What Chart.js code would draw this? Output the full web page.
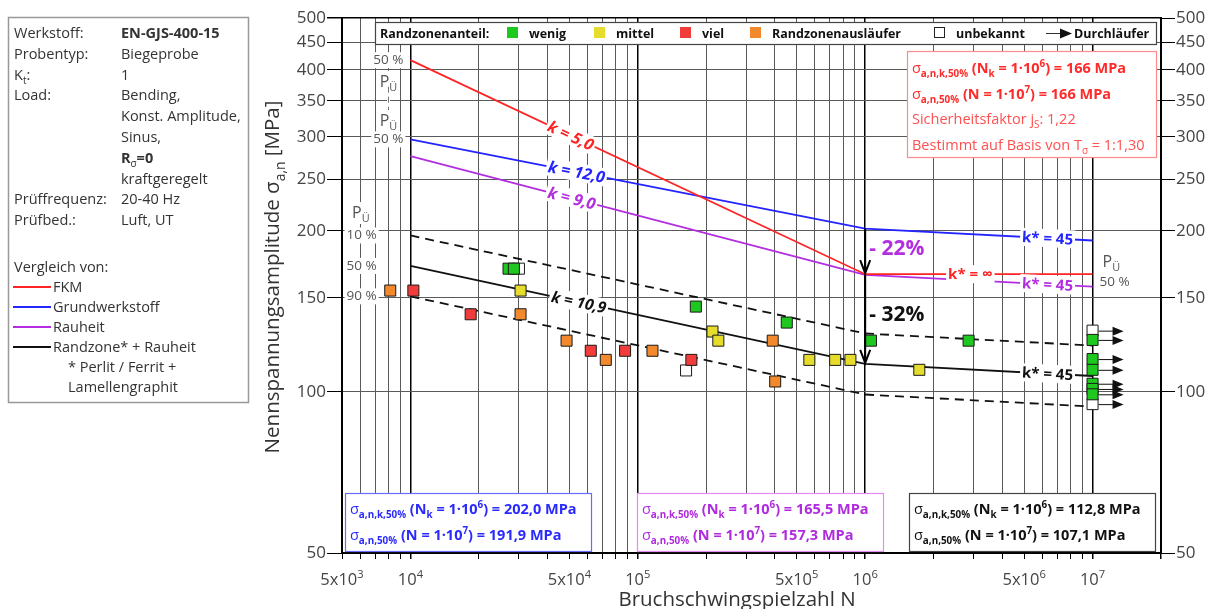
<!DOCTYPE html>
<html>
<head>
<meta charset="utf-8">
<script src="https://cdn.jsdelivr.net/npm/chart.js@4.4.1/dist/chart.umd.min.js"></script>
<style>
  html, body { margin: 0; padding: 0; background: #fff; }
</style>
</head>
<body>
<canvas id="woehler" width="1208" height="609"></canvas>
<script>
const FONT = '"Open Sans", "Noto Sans", sans-serif';

// Achsen
const xMin = 5000, xMax = 2e7;
const yMin = 50, yMax = 500;
const xLabelTicks = [5e3, 1e4, 5e4, 1e5, 5e5, 1e6, 5e6, 1e7];
const yTicks = [50, 100, 150, 200, 250, 300, 350, 400, 450, 500];

// Woehlerlinien: Stuetzstellen N und Spannungen
const lineN = [1e4, 1e6, 1e7];
const fkmS = [417, 166, 166];
const grundS = [296.5, 202.0, 191.9];
const rauhS = [276, 165.5, 157.3];
const randS = [172, 112.8, 107.1];
const rand10S = [196.1, 128.6, 122.1];
const rand90S = [150.9, 98.9, 93.9];

// Versuchspunkte nach Randzonenanteil
const wenigN = [27000, 28500, 180000, 452000, 1.06e6, 2.85e6];
const wenigS = [170, 170, 144.4, 134.8, 124.7, 124.7];
const mittelN = [30500, 213000, 226000, 568000, 738000, 861000, 1.73e6];
const mittelS = [154.7, 129.7, 124.7, 114.8, 114.8, 114.8, 110];
const vielN = [10300, 18400, 62100, 87900, 172000];
const vielS = [154.7, 139.7, 119.4, 119.4, 114.8];
const auslN = [8150, 30500, 48600, 72300, 116000, 392000, 402000];
const auslS = [154.7, 139.7, 124.7, 114.8, 119.4, 124.7, 104.6];
const unbekN = [30000, 163000];
const unbekS = [170, 109.7];
// Durchlaeufer
const runWenigN = [1e7, 1e7, 1e7, 1e7, 1e7, 1e7];
const runWenigS = [125.1, 115.2, 110, 103.6, 101.3, 99];
const runUnbekN = [1e7, 1e7];
const runUnbekS = [130.2, 94.9];

const RED = '#ff2424', BLUE = '#2424ff', PURPLE = '#b22ee0', BLACK = '#111';
const GREEN = '#1ec81e', YELLOW = '#e6dc2c', VIEL = '#f23c3c', ORANGE = '#f2892c';

const xGridTicks = [];
for (let e = 3; e <= 7; e++) {
    for (let m = 1; m <= 9; m++) {
        const v = m * Math.pow(10, e);
        if (v >= xMin && v <= xMax) xGridTicks.push(v);
    }
}

const pts = (ns, ss) => ns.map((n, i) => ({ x: n, y: ss[i] }));

function lineSet(label, ss, color, dash) {
    return {
        label, data: pts(lineN, ss), showLine: true,
        borderColor: color, borderWidth: 1.8, borderDash: dash || [],
        pointRadius: 0, order: 5
    };
}
function pointSet(label, ns, ss, fill, order, runout) {
    return {
        label, data: pts(ns, ss), pointStyle: 'rect', pointRadius: 7.8,
        backgroundColor: fill, borderColor: '#1a1a1a', borderWidth: 1,
        order: order, runout: !!runout
    };
}

// Beschriftungen an den Linien
const lineLabels = [
    { t: 'k = 5,0', n: 50700, s: fkmS, c: RED, f: 'italic bold 16px', seg: 0 },
    { t: 'k = 12,0', n: 53800, s: grundS, c: BLUE, f: 'italic bold 16px', seg: 0 },
    { t: 'k = 9,0', n: 51200, s: rauhS, c: PURPLE, f: 'italic bold 16px', seg: 0 },
    { t: 'k = 10,9', n: 55000, s: randS, c: BLACK, f: 'italic bold 15.5px', seg: 0 },
    { t: 'k* = 45', n: 6.34e6, s: grundS, c: BLUE, f: 'bold 15px', seg: 1 },
    { t: 'k* = \u221e', n: 2.9e6, s: fkmS, c: RED, f: 'bold 15px', seg: 1 },
    { t: 'k* = 45', n: 6.34e6, s: rauhS, c: PURPLE, f: 'bold 15px', seg: 1 },
    { t: 'k* = 45', n: 6.34e6, s: randS, c: BLACK, f: 'bold 15px', seg: 1 }
];

// Ueberlebenswahrscheinlichkeiten
const pueNotes = [
    { n: 8000, s: fkmS[0], t: '50 %' },
    { n: 8000, s: 380, p: true },
    { n: 8000, s: 321, p: true },
    { n: 8000, s: grundS[0], t: '50 %' },
    { n: 6050, s: 216, p: true },
    { n: 6100, s: rand10S[0], t: '10 %' },
    { n: 6100, s: randS[0], t: '50 %' },
    { n: 6100, s: rand90S[0], t: '90 %' },
    { n: 1.21e7, s: 175, p: true },
    { n: 1.25e7, s: 160.6, t: '50 %' }
];

function onLine(n, ss) {
    const i = n <= lineN[1] ? 0 : 1;
    const a = Math.log10(lineN[i]), b = Math.log10(lineN[i + 1]);
    const f = (Math.log10(n) - a) / (b - a);
    return Math.pow(10, Math.log10(ss[i]) + f * (Math.log10(ss[i + 1]) - Math.log10(ss[i])));
}

function rich(ctx, x, y, parts, size, color, align) {
    const f = fl => {
        const small = fl.includes('_') || fl.includes('^');
        const s = small ? size * 0.68 : size;
        return (fl.includes('i') ? 'italic ' : '') + (fl.includes('b') ? 'bold ' : '') + s.toFixed(1) + 'px ' + FONT;
    };
    let w = 0;
    for (const [t, fl = ''] of parts) { ctx.font = f(fl); w += ctx.measureText(t).width; }
    let cx = align === 'center' ? x - w / 2 : (align === 'right' ? x - w : x);
    ctx.fillStyle = color;
    ctx.textAlign = 'left';
    ctx.textBaseline = 'alphabetic';
    for (const [t, fl = ''] of parts) {
        ctx.font = f(fl);
        const dy = fl.includes('_') ? size * 0.28 : (fl.includes('^') ? -size * 0.42 : 0);
        ctx.fillText(t, cx, y + dy);
        cx += ctx.measureText(t).width;
    }
    return w;
}

const fmt1 = v => v.toFixed(1).replace('.', ',');
const boxLine1 = v => [['\u03c3', ''], ['a,n,k,50%', 'b_'], [' (N', 'b'], ['k', 'b_'], [' = 1\u00b710', 'b'], ['6', 'b^'], [') = ' + v + ' MPa', 'b']];
const boxLine2 = v => [['\u03c3', ''], ['a,n,50%', 'b_'], [' (N = 1\u00b710', 'b'], ['7', 'b^'], [') = ' + v + ' MPa', 'b']];

function box(ctx, x, y, w, h, border) {
    ctx.fillStyle = '#fff';
    ctx.fillRect(x, y, w, h);
    ctx.strokeStyle = border;
    ctx.lineWidth = 1.2;
    ctx.strokeRect(x + 0.5, y + 0.5, w, h);
}

function arrowHeadFilled(ctx, x, y, len, half) {
    ctx.beginPath();
    ctx.moveTo(x, y);
    ctx.lineTo(x - len, y - half);
    ctx.lineTo(x - len, y + half);
    ctx.closePath();
    ctx.fill();
}

const overlay = {
    id: 'overlay',
    afterDatasetsDraw(chart) {
        const c = chart.ctx;
        c.save();
        // Durchlaeufer-Pfeile
        chart.data.datasets.forEach((ds, i) => {
            if (!ds.runout) return;
            chart.getDatasetMeta(i).data.forEach(p => {
                c.strokeStyle = '#111';
                c.fillStyle = '#111';
                c.lineWidth = 1;
                c.beginPath();
                c.moveTo(p.x + 6, p.y + 0.5);
                c.lineTo(p.x + 22, p.y + 0.5);
                c.stroke();
                arrowHeadFilled(c, p.x + 31, p.y + 0.5, 11, 4.5);
            });
        });
        c.restore();
    },
    afterDraw(chart) {
        const c = chart.ctx;
        const xs = chart.scales.x, ys = chart.scales.y;
        const area = chart.chartArea;
        c.save();

        // Linienbeschriftungen
        lineLabels.forEach(l => {
            const i = l.seg;
            const x0 = xs.getPixelForValue(lineN[i]), x1 = xs.getPixelForValue(lineN[i + 1]);
            const y0 = ys.getPixelForValue(l.s[i]), y1 = ys.getPixelForValue(l.s[i + 1]);
            const ang = Math.atan2(y1 - y0, x1 - x0);
            const px = xs.getPixelForValue(l.n), py = ys.getPixelForValue(onLine(l.n, l.s));
            c.save();
            c.translate(px, py);
            c.rotate(ang);
            c.font = l.f + ' ' + FONT;
            const w = c.measureText(l.t).width;
            c.fillStyle = '#fff';
            c.fillRect(-w / 2 - 2, -9, w + 4, 18);
            c.fillStyle = l.c;
            c.textAlign = 'center';
            c.textBaseline = 'middle';
            c.fillText(l.t, 0, 1);
            c.restore();
        });

        // P_Ue Beschriftungen
        pueNotes.forEach(p => {
            const px = xs.getPixelForValue(p.n), py = ys.getPixelForValue(p.s);
            c.fillStyle = '#fff';
            if (p.p) {
                c.fillRect(px - 9, py - 11, 18, 22);
                rich(c, px, py + 5, [['P', ''], ['\u00dc', '_']], 16, '#555', 'center');
            } else {
                c.font = '13.5px ' + FONT;
                const w = c.measureText(p.t).width;
                c.fillRect(px - w / 2 - 2, py - 8, w + 4, 16);
                c.fillStyle = '#555';
                c.textAlign = 'center';
                c.textBaseline = 'middle';
                c.fillText(p.t, px, py);
            }
        });
        // gestrichelte Verbindung zwischen den oberen P_Ue
        {
            const px = Math.round(xs.getPixelForValue(8000)) + 0.5;
            const ya = ys.getPixelForValue(372), yb = ys.getPixelForValue(338);
            c.strokeStyle = '#fff';
            c.lineWidth = 3;
            c.beginPath(); c.moveTo(px, ya); c.lineTo(px, yb); c.stroke();
            c.strokeStyle = '#777';
            c.lineWidth = 1;
            c.setLineDash([6, 4]);
            c.beginPath(); c.moveTo(px, ya); c.lineTo(px, yb); c.stroke();
            c.setLineDash([]);
        }

        // Abfall-Pfeile bei Nk = 1e6
        const ax = xs.getPixelForValue(lineN[1]);
        const drops = [[grundS[1], fkmS[1]], [fkmS[1], randS[1]]];
        c.strokeStyle = '#000';
        c.lineWidth = 2;
        drops.forEach(([a, b]) => {
            const ya = ys.getPixelForValue(a), yb = ys.getPixelForValue(b);
            c.beginPath();
            c.moveTo(ax, ya); c.lineTo(ax, yb - 1);
            c.moveTo(ax - 5, yb - 14); c.lineTo(ax, yb - 1); c.lineTo(ax + 5, yb - 14);
            c.stroke();
        });
        c.font = 'bold 21px ' + FONT;
        c.textAlign = 'left';
        c.textBaseline = 'alphabetic';
        c.fillStyle = PURPLE;
        c.fillText('- 22%', ax + 4, ys.getPixelForValue(180.4));
        c.fillStyle = '#111';
        c.fillText('- 32%', ax + 4, ys.getPixelForValue(135.8));

        // Legende oben
        box(c, 375, 22, 781, 22, '#444');
        c.font = 'bold 12.5px ' + FONT;
        c.fillStyle = '#111';
        c.textBaseline = 'alphabetic';
        c.fillText('Randzonenanteil:', 380, 38);
        const legItems = [
            [507, GREEN, 'wenig'], [594, YELLOW, 'mittel'], [680, VIEL, 'viel'],
            [750, ORANGE, 'Randzonenausl\u00e4ufer'], [934, '#fff', 'unbekannt']
        ];
        legItems.forEach(([lx, col, t]) => {
            c.fillStyle = col;
            c.fillRect(lx, 27, 11, 11);
            if (col === '#fff') {
                c.strokeStyle = '#222'; c.lineWidth = 1;
                c.strokeRect(lx + 0.5, 27.5, 10, 10);
            }
            c.fillStyle = '#111';
            c.fillText(t, lx + 22, 38);
        });
        c.strokeStyle = '#333'; c.lineWidth = 1;
        c.beginPath(); c.moveTo(1046, 33.5); c.lineTo(1060, 33.5); c.stroke();
        c.fillStyle = '#111';
        arrowHeadFilled(c, 1072, 33.5, 12, 5);
        c.fillText('Durchl\u00e4ufer', 1074, 38);

        // FKM Kasten
        box(c, 907, 51, 249, 106, '#ff8a8a');
        rich(c, 912, 73, boxLine1(fkmS[1].toFixed(0)), 14.5, '#ff2a2a');
        rich(c, 912, 99, boxLine2(fkmS[2].toFixed(0)), 14.5, '#ff2a2a');
        rich(c, 912, 124, [['Sicherheitsfaktor j', ''], ['S', '_'], [': 1,22', '']], 14.5, '#ff5050');
        rich(c, 912, 150, [['Bestimmt auf Basis von T', ''], ['\u03c3', '_'], [' = 1:1,30', '']], 14.5, '#ff5050');

        // Kennwert-Kaesten unten
        const lower = [
            [345, '#6a6aff', '#2a2aff', grundS],
            [637, '#e48af2', '#b02ae0', rauhS],
            [909, '#444', '#111', randS]
        ];
        lower.forEach(([bx, bc, tc, ss]) => {
            box(c, bx, 493, 246, 58, bc);
            rich(c, bx + 5, 514, boxLine1(fmt1(ss[1])), 14.5, tc);
            rich(c, bx + 5, 540, boxLine2(fmt1(ss[2])), 14.5, tc);
        });

        // x-Achsenbeschriftung mit Exponenten
        xLabelTicks.forEach(v => {
            const e = Math.floor(Math.log10(v) + 1e-9);
            const m = Math.round(v / Math.pow(10, e));
            const parts = (m === 1 ? [] : [[m + 'x', '']]).concat([['10', ''], [String(e), '^']]);
            rich(c, xs.getPixelForValue(v), area.bottom + 32, parts, 16.5, '#444', 'center');
        });

        // Achsentitel
        c.font = '20.5px ' + FONT;
        c.fillStyle = '#333';
        c.textAlign = 'center';
        c.textBaseline = 'alphabetic';
        c.fillText('Bruchschwingspielzahl N', 737, 606);
        c.save();
        c.translate(279, 277);
        c.rotate(-Math.PI / 2);
        rich(c, 0, 0, [['Nennspannungsamplitude \u03c3', ''], ['a,n', '_'], [' [MPa]', '']], 20.5, '#333', 'center');
        c.restore();

        // Infokasten links
        c.fillStyle = '#fff';
        c.fillRect(8, 17, 240, 385);
        c.strokeStyle = '#999';
        c.lineWidth = 1.5;
        c.strokeRect(8.5, 17.5, 240, 385);
        const L = 14, R = 121, sz = 14.5, tc = '#333';
        const rows = [
            [[['Werkstoff:', '']], [['EN-GJS-400-15', 'b']]],
            [[['Probentyp:', '']], [['Biegeprobe', '']]],
            [[['K', ''], ['t', '_'], [':', '']], [['1', '']]],
            [[['Load:', '']], [['Bending,', '']]],
            [null, [['Konst. Amplitude,', '']]],
            [null, [['Sinus,', '']]],
            [null, [['R', 'b'], ['\u03c3', '_'], ['=0', 'b']]],
            [null, [['kraftgeregelt', '']]],
            [[['Pr\u00fcffrequenz:', '']], [['20-40 Hz', '']]],
            [[['Pr\u00fcfbed.:', '']], [['Luft, UT', '']]]
        ];
        rows.forEach(([a, b], i) => {
            const y = 38 + i * 20.8;
            if (a) rich(c, L, y, a, sz, tc);
            rich(c, R, y, b, sz, tc);
        });
        rich(c, L, 272, [['Vergleich von:', '']], sz, tc);
        const legLines = [[RED, 'FKM'], [BLUE, 'Grundwerkstoff'], [PURPLE, 'Rauheit'], ['#111', 'Randzone* + Rauheit']];
        legLines.forEach(([col, t], i) => {
            const y = 292 + i * 20;
            c.strokeStyle = col;
            c.lineWidth = 1.8;
            c.beginPath(); c.moveTo(13, y - 5); c.lineTo(51, y - 5); c.stroke();
            rich(c, 53, y, [[t, '']], sz, tc);
        });
        rich(c, 68, 372, [['* Perlit / Ferrit +', '']], sz, tc);
        rich(c, 68, 392, [['Lamellengraphit', '']], sz, tc);

        c.restore();
    }
};

const gridColor = v => (v === 1e4 || v === 1e5 || v === 1e6 || v === 1e7 || v === xMax) ? '#000' : '#5a5a5a';

new Chart(document.getElementById('woehler'), {
    type: 'scatter',
    data: {
        datasets: [
            pointSet('wenig', wenigN, wenigS, GREEN, 1),
            pointSet('mittel', mittelN, mittelS, YELLOW, 1),
            pointSet('viel', vielN, vielS, VIEL, 1),
            pointSet('Randzonenausl\u00e4ufer', auslN, auslS, ORANGE, 1),
            pointSet('unbekannt', unbekN, unbekS, '#fff', 2),
            pointSet('wenig Durchl\u00e4ufer', runWenigN, runWenigS, GREEN, 1, true),
            pointSet('unbekannt Durchl\u00e4ufer', runUnbekN, runUnbekS, '#fff', 1, true),
            lineSet('FKM', fkmS, RED),
            lineSet('Grundwerkstoff', grundS, BLUE),
            lineSet('Rauheit', rauhS, PURPLE),
            lineSet('Randzone + Rauheit', randS, BLACK),
            lineSet('Randzone 10 %', rand10S, BLACK, [9, 6]),
            lineSet('Randzone 90 %', rand90S, BLACK, [9, 6])
        ]
    },
    options: {
        responsive: false,
        animation: false,
        events: [],
        layout: { padding: { left: 270, right: 0, top: 18, bottom: 0 } },
        plugins: { legend: { display: false }, tooltip: { enabled: false } },
        scales: {
            x: {
                type: 'logarithmic', min: xMin, max: xMax,
                afterBuildTicks: s => { s.ticks = xGridTicks.map(v => ({ value: v })); },
                afterFit: s => { s.height = 56; },
                ticks: { autoSkip: false, maxRotation: 0, callback: () => '' },
                grid: {
                    color: ctx => gridColor(ctx.tick ? ctx.tick.value : 0),
                    lineWidth: ctx => gridColor(ctx.tick ? ctx.tick.value : 0) === '#000' ? 1.5 : 1,
                    tickLength: 6, tickColor: '#000'
                },
                border: { color: '#000', width: 2 }
            },
            y: {
                type: 'logarithmic', min: yMin, max: yMax, position: 'left',
                afterBuildTicks: s => { s.ticks = yTicks.map(v => ({ value: v })); },
                afterFit: s => { s.width = 72; },
                ticks: { autoSkip: false, padding: 1, color: '#444', font: { family: FONT, size: 17 }, callback: v => String(v) },
                grid: {
                    color: ctx => (ctx.tick && ctx.tick.value === yMax) ? '#000' : '#5a5a5a',
                    lineWidth: ctx => (ctx.tick && ctx.tick.value === yMax) ? 1.5 : 1,
                    tickLength: 15, tickColor: '#000'
                },
                border: { color: '#000', width: 2 }
            },
            y2: {
                type: 'logarithmic', min: yMin, max: yMax, position: 'right',
                afterBuildTicks: s => { s.ticks = yTicks.map(v => ({ value: v })); },
                afterFit: s => { s.width = 47; },
                ticks: { autoSkip: false, padding: 1, color: '#444', font: { family: FONT, size: 17 }, callback: v => String(v) },
                grid: { drawOnChartArea: false, tickLength: 14, tickColor: '#000' },
                border: { color: '#000', width: 2 }
            }
        }
    },
    plugins: [overlay]
});
</script>
</body>
</html>
